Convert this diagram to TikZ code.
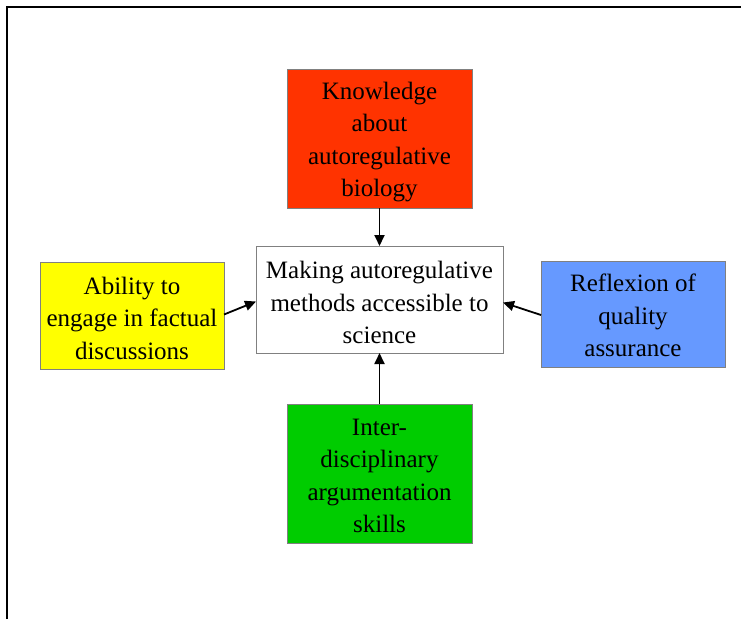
\documentclass[tikz,border=0pt]{standalone}
\usepackage{fontspec}
\setmainfont{Liberation Serif}
\usetikzlibrary{arrows.meta}
\definecolor{boxred}{HTML}{FF3300}
\definecolor{boxyellow}{HTML}{FFFF00}
\definecolor{boxblue}{HTML}{6699FF}
\definecolor{boxgreen}{HTML}{00CC00}
\definecolor{boxline}{HTML}{808080}
\begin{document}
\begin{tikzpicture}[x=1pt,y=-1pt,
  box/.style={draw=boxline,line width=0.8pt,inner sep=0pt,outer sep=0pt},
  boxtext/.style={align=center,inner sep=0pt,font=\fontsize{25}{32.5}\selectfont},
  link/.style={line width=1.8pt,-{Triangle[length=11pt,width=10pt]}}]
\useasboundingbox (0,0) rectangle (741,619);
% outer frame
\draw[line width=2.2pt] (7,619) -- (7,7) -- (741,7);
% boxes
\node[box,fill=boxred,minimum width=185pt,minimum height=139pt] (know) at (379.5,138.5) {};
\node[boxtext] (knowtext) at ([yshift=-3.5pt]know.center)
  {Knowledge\\about\\autoregulative\\biology};
\node[box,fill=white,minimum width=247pt,minimum height=107pt] (make) at (379.5,299.5) {};
\node[boxtext] (maketext) at ([yshift=-3pt]make.center)
  {Making autoregulative\\methods accessible to\\science};
\node[box,fill=boxyellow,minimum width=184pt,minimum height=107pt] (abil) at (132,315.5) {};
\node[boxtext] (abiltext) at ([yshift=-2.5pt]abil.center)
  {Ability to\\engage in factual\\discussions};
\node[box,fill=boxblue,minimum width=184pt,minimum height=106pt] (refl) at (633,314) {};
\node[boxtext] (refltext) at ([yshift=-1.5pt]refl.center)
  {Reflexion of\\quality\\assurance};
\node[box,fill=boxgreen,minimum width=185pt,minimum height=139pt] (inter) at (379.5,473.5) {};
\node[boxtext] (intertext) at ([yshift=-2.5pt]inter.center)
  {Inter-\\disciplinary\\argumentation\\skills};
% connectors
\draw[link] (know.south) -- (make.north);
\draw[link] (inter.north) -- (make.south);
\draw[link] ([yshift=1pt]abil.east) -- ([yshift=-2pt]make.west);
\draw[link] ([yshift=-1pt]refl.west) -- ([yshift=-3pt]make.east);
\end{tikzpicture}
\end{document}
